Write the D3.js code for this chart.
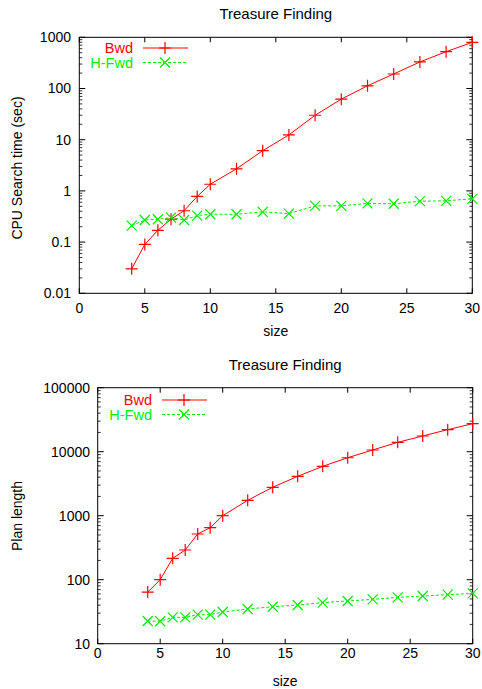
<!DOCTYPE html>
<html>
<head>
<meta charset="utf-8">
<script src="https://cdn.jsdelivr.net/npm/d3@7"></script>
<style>
  html, body { margin: 0; padding: 0; background: #fff; }
  text { font-family: "Liberation Sans", Arial, Helvetica, sans-serif; }
</style>
</head>
<body>
<svg id="chart" width="482" height="689"></svg>
<script>
// problem sizes (x values, shared by both panels)
const sizes = [4, 5, 6, 7, 8, 9, 10, 12, 14, 16, 18, 20, 22, 24, 26, 28, 30];

// panel 1: CPU search time (sec)
const cpuBwd  = [0.03, 0.09, 0.17, 0.28, 0.41, 0.78, 1.35, 2.7, 6.1, 12.4, 30, 62, 113, 192, 330, 523, 798];
const cpuHFwd = [0.21, 0.27, 0.28, 0.30, 0.27, 0.33, 0.35, 0.35, 0.39, 0.36, 0.51, 0.51, 0.57, 0.56, 0.63, 0.64, 0.70];

// panel 2: plan length
const planBwd  = [64, 100, 216, 291, 518, 650, 1000, 1740, 2780, 4120, 5910, 8050, 10640, 14000, 17600, 22100, 27400];
const planHFwd = [22.6, 22.4, 25.8, 25.8, 28.4, 28.4, 31.3, 34.8, 37.8, 40.3, 43.8, 46.5, 49.3, 53, 55.6, 58.3, 61];

const xTicks = [0, 5, 10, 15, 20, 25, 30];
const cpuTicks = [0.01, 0.1, 1, 10, 100, 1000];
const planTicks = [10, 100, 1000, 10000, 100000];
const seriesNames = ["Bwd", "H-Fwd"];

const RED = "#ff0000", GREEN = "#00ee00";
const svg = d3.select("#chart");

function drawPanel(cfg) {
  const g = svg.append("g");
  const x = d3.scaleLinear().domain([0, 30]).range([cfg.left, cfg.right]);
  const y = d3.scaleLog().domain([cfg.yTicks[0], cfg.yTicks.at(-1)]).range([cfg.bottom, cfg.top]);

  // title
  g.append("text")
    .attr("x", (cfg.left + cfg.right) / 2 + cfg.titleDx)
    .attr("y", cfg.titleY)
    .attr("text-anchor", "middle").attr("dy", "0.35em")
    .attr("font-size", 15).text("Treasure Finding");

  // minor log ticks (2..9 each decade), left and right
  const minors = [];
  cfg.yTicks.slice(0, -1).forEach(v => { for (let k = 2; k < 10; k++) minors.push(v * k); });
  g.append("g").selectAll("path").data(minors).join("path")
    .attr("d", d => `M${cfg.left},${y(d)}h3M${cfg.right},${y(d)}h-3`)
    .attr("stroke", "#000").attr("stroke-width", 0.8);

  // major y ticks
  g.append("g").selectAll("path").data(cfg.yTicks).join("path")
    .attr("d", d => `M${cfg.left},${y(d)}h6M${cfg.right},${y(d)}h-6`)
    .attr("stroke", "#000");
  g.append("g").selectAll("text").data(cfg.yTicks).join("text")
    .attr("x", cfg.yLabelX).attr("y", d => y(d)).attr("dy", "0.35em")
    .attr("text-anchor", "end").attr("font-size", 14)
    .text(d => d3.format("~")(d));

  // x ticks
  g.append("g").selectAll("path").data(xTicks).join("path")
    .attr("d", d => `M${x(d)},${cfg.bottom}v-5M${x(d)},${cfg.top}v5`)
    .attr("stroke", "#000");
  g.append("g").selectAll("text").data(xTicks).join("text")
    .attr("x", d => x(d)).attr("y", cfg.xLabelY).attr("dy", "0.35em")
    .attr("text-anchor", "middle").attr("font-size", 14)
    .text(d => d);

  // axis titles
  g.append("text")
    .attr("x", (cfg.left + cfg.right) / 2 + cfg.titleDx).attr("y", cfg.sizeY).attr("dy", "0.35em")
    .attr("text-anchor", "middle").attr("font-size", 14).text("size");
  g.append("text")
    .attr("transform", `translate(17,${cfg.yTitleY}) rotate(-90)`)
    .attr("dy", "0.35em").attr("text-anchor", "middle").attr("font-size", 14)
    .text(cfg.yTitle);

  // frame
  g.append("rect")
    .attr("x", cfg.left).attr("y", cfg.top)
    .attr("width", cfg.right - cfg.left).attr("height", cfg.bottom - cfg.top)
    .attr("fill", "none").attr("stroke", "#000");

  const line = d3.line().x((d, i) => x(sizes[i])).y(d => y(d));
  const plus = d => `M-6,0h12M0,-6v12`;
  const cross = d => `M-5,-5l10,10M-5,5l10,-10`;

  const series = [
    { vals: cfg.bwd, color: RED, dash: null, marker: plus },
    { vals: cfg.hfwd, color: GREEN, dash: "3,2", marker: cross }
  ];

  series.forEach((s, si) => {
    g.append("path").datum(s.vals)
      .attr("d", line).attr("fill", "none")
      .attr("stroke", s.color).attr("stroke-width", 1)
      .attr("stroke-dasharray", s.dash);
    g.append("g").selectAll("path").data(s.vals).join("path")
      .attr("transform", (d, i) => `translate(${x(sizes[i])},${y(d)})`)
      .attr("d", s.marker).attr("stroke", s.color).attr("stroke-width", 1.2);

    // legend
    const ly = cfg.legendY + si * 14.5;
    g.append("text")
      .attr("x", cfg.legendX).attr("y", ly).attr("dy", "0.35em")
      .attr("text-anchor", "end").attr("font-size", 14.5)
      .attr("fill", s.color).text(seriesNames[si]);
    g.append("path")
      .attr("d", `M${cfg.legendX + 10},${ly}h45`)
      .attr("stroke", s.color).attr("stroke-dasharray", s.dash);
    g.append("path")
      .attr("transform", `translate(${cfg.legendX + 32},${ly})`)
      .attr("d", s.marker).attr("stroke", s.color).attr("stroke-width", 1.2);
  });
}

drawPanel({
  left: 79.3, right: 472.3, top: 37.3, bottom: 293.3,
  yTicks: cpuTicks, bwd: cpuBwd, hfwd: cpuHFwd,
  yTitle: "CPU Search time (sec)", yTitleY: 168,
  titleY: 14, titleDx: 0, yLabelX: 71, xLabelY: 308.5, sizeY: 331.5,
  legendX: 133, legendY: 48
});

drawPanel({
  left: 97.7, right: 472.7, top: 387.7, bottom: 643.7,
  yTicks: planTicks, bwd: planBwd, hfwd: planHFwd,
  yTitle: "Plan length", yTitleY: 516,
  titleY: 365, titleDx: 0, yLabelX: 90, xLabelY: 653, sizeY: 681.5,
  legendX: 152, legendY: 400
});
</script>
</body>
</html>
